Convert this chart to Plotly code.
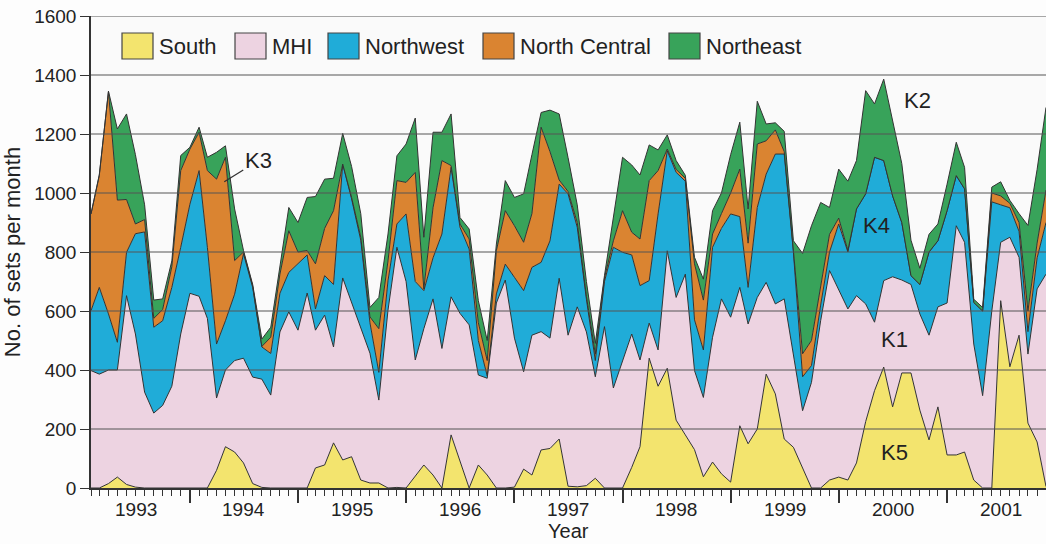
import pandas as pd
import plotly.graph_objects as go

# Monthly longline sets by fishing region, Feb 1993 - Dec 2001
months = pd.date_range("1993-02-01", periods=107, freq="MS")

south = [0, 0, 15, 37, 12, 3, 0, 0, 0, 0, 0,
         0, 0, 0, 60, 140, 122, 85, 15, 2, 0, 0, 0, 0,
         0, 68, 78, 153, 95, 106, 27, 17, 17, 0, 2, 0,
         40, 78, 44, 0, 180, 90, 0, 78, 44, 0, 0, 3,
         64, 44, 129, 134, 166, 6, 4, 8, 33, 0, 0, 0,
         70, 140, 440, 345, 406, 230, 180, 130, 38, 88, 48, 20,
         211, 150, 200, 386, 319, 166, 138, 70, 0, 0, 27, 37,
         27, 85, 225, 330, 410, 275, 390, 390, 264, 163, 275, 112,
         112, 122, 27, 0, 0, 635, 411, 518, 220, 156, 5]
mhi = [398, 386, 385, 363, 640, 519, 325, 254, 280, 345, 522,
       660, 650, 575, 245, 260, 310, 355, 361, 367, 315, 529, 597, 535,
       661, 467, 508, 325, 617, 521, 515, 440, 281, 603, 814, 700,
       394, 462, 597, 473, 468, 502, 553, 305, 328, 627, 705, 505,
       330, 474, 401, 374, 545, 512, 610, 521, 344, 547, 339, 434,
       452, 294, 119, 123, 398, 416, 545, 268, 269, 423, 593, 559,
       469, 406, 446, 311, 305, 475, 316, 192, 358, 567, 710, 632,
       580, 567, 399, 232, 293, 441, 315, 300, 326, 355, 339, 515,
       777, 711, 461, 313, 600, 198, 439, 264, 234, 519, 720]
northwest = [203, 294, 190, 94, 147, 340, 543, 291, 287, 335, 294,
             302, 426, 241, 183, 167, 225, 354, 304, 109, 141, 131, 134, 224,
             129, 72, 134, 212, 386, 353, 298, 103, 94, 100, 79, 229,
             266, 129, 139, 388, 439, 292, 257, 117, 8, 31, 54, 206,
             275, 230, 235, 330, 319, 479, 270, 111, 55, 153, 477, 365,
             268, 252, 144, 461, 339, 424, 315, 172, 161, 305, 239, 350,
             240, 124, 305, 367, 508, 491, 346, 115, 57, 53, 63, 226,
             193, 294, 373, 559, 407, 274, 195, 30, 100, 282, 224, 313,
             170, 181, 141, 287, 370, 127, 100, 88, 76, 105, 175]
north_central = [328, 379, 755, 482, 179, 33, 42, 30, 38, 70, 260,
                 187, 130, 260, 559, 554, 114, 6, 5, 2, 55, 65, 141, 41,
                 15, 153, 160, 250, 0, 5, 10, 20, 148, 67, 147, 107,
                 370, 6, 170, 249, 6, 11, 34, 60, 52, 147, 181, 175,
                 164, 182, 458, 302, 14, 8, 16, 10, 22, 12, 22, 141,
                 77, 158, 339, 147, 6, 10, 10, 190, 169, 45, 50, 71,
                 161, 150, 215, 113, 82, 8, 5, 78, 85, 70, 60, 20,
                 5, 0, 0, 0, 0, 0, 0, 0, 0, 0, 0, 0,
                 0, 0, 0, 0, 30, 30, 15, 30, 70, 50, 110]
northeast = [0, 3, 0, 241, 290, 235, 50, 62, 36, 20, 51,
             6, 17, 45, 91, 39, 175, 5, 5, 25, 34, 25, 79, 100,
             180, 228, 167, 110, 104, 105, 80, 32, 106, 91, 84, 130,
             184, 175, 256, 96, 175, 22, 34, 75, 68, 22, 102, 96,
             164, 200, 50, 141, 224, 115, 60, 50, 36, 8, 79, 181,
             228, 217, 121, 70, 48, 30, 10, 22, 71, 79, 70, 130,
             159, 116, 145, 57, 24, 69, 33, 340, 389, 278, 91, 166,
             235, 164, 350, 181, 276, 250, 200, 120, 55, 60, 57, 90,
             113, 73, 11, 12, 20, 48, 10, 30, 290, 250, 280]

years = list(range(1993, 2002))
y_ticks = list(range(0, 1601, 200))

series = [
    ("South", south, "#f3e46e"),
    ("MHI", mhi, "#edd3e1"),
    ("Northwest", northwest, "#20acd8"),
    ("North Central", north_central, "#da8431"),
    ("Northeast", northeast, "#38a35a"),
]

# cluster labels: (text, date, value)
cluster_labels = [
    ("K2", "2000-09-22", 1312),
    ("K4", "2000-05-08", 891),
    ("K1", "2000-07-08", 505),
    ("K5", "2000-07-08", 119),
]

FONT = "Liberation Sans, Arial, Helvetica, sans-serif"
INK = "#222222"
EDGE = "#333333"

fig = go.Figure()
for name, vals, color in series:
    fig.add_trace(go.Scatter(
        x=months, y=vals, name=name, mode="lines",
        stackgroup="one", fillcolor=color,
        line=dict(color=EDGE, width=1), showlegend=False,
    ))

# horizontal reference lines drawn over the filled areas
shapes = []
for v in y_ticks[1:]:
    shapes.append(dict(type="line", xref="paper", x0=0, x1=1, yref="y", y0=v, y1=v,
                       line=dict(color="#555555", width=1.2), layer="above"))

# legend row: swatch boxes with labels
legend_left_px = [122, 235, 328, 483, 669]
plot_l, plot_w, plot_b, plot_h = 91, 955, 488, 472
box_w, box_top, box_bot = 31, 33, 59
annotations = []
for (name, _, color), px in zip(series, legend_left_px):
    shapes.append(dict(type="rect", xref="paper", yref="paper",
                       x0=(px - plot_l) / plot_w, x1=(px + box_w - plot_l) / plot_w,
                       y0=(plot_b - box_bot) / plot_h, y1=(plot_b - box_top) / plot_h,
                       fillcolor=color, line=dict(color="#444444", width=1.2), layer="above"))
    annotations.append(dict(xref="paper", yref="paper",
                            x=(px + box_w + 4 - plot_l) / plot_w,
                            y=(plot_b - 46) / plot_h, text=name, showarrow=False,
                            xanchor="left", yanchor="middle",
                            font=dict(family=FONT, size=22, color=INK)))

# year labels centred on each year
for yr in years:
    annotations.append(dict(xref="x", yref="paper", x=f"{yr}-07-02", y=0,
                            text=str(yr), showarrow=False, xanchor="center",
                            yanchor="middle", yshift=-21,
                            font=dict(family=FONT, size=19, color=INK)))

for text, xd, yv in cluster_labels:
    annotations.append(dict(x=xd, y=yv, text=text, showarrow=False,
                            font=dict(family=FONT, size=22, color=INK)))

annotations.append(dict(x="1994-04-27", y=1038, text="K3", showarrow=True,
                        arrowhead=0, arrowwidth=1.3, arrowcolor=EDGE,
                        ax=34, ay=-21, standoff=0,
                        font=dict(family=FONT, size=22, color=INK)))

# axis title placed under the year labels
annotations.append(dict(xref="paper", yref="paper", x=0.5, y=0, yshift=-43,
                        text="Year", showarrow=False, xanchor="center",
                        yanchor="middle", font=dict(family=FONT, size=20, color=INK)))

fig.update_layout(
    width=1046, height=544,
    margin=dict(l=91, r=0, t=16, b=56),
    paper_bgcolor="#fdfdfd", plot_bgcolor="#fafafa",
    font=dict(family=FONT, size=19, color=INK),
    shapes=shapes, annotations=annotations, showlegend=False,
    xaxis=dict(
        type="date", range=[months[0], months[-1]],
        tick0="1993-01-01", dtick="M12", showticklabels=False,
        ticks="outside", ticklen=13, tickwidth=1.5, tickcolor=EDGE,
        minor=dict(dtick="M1", ticks="outside", ticklen=6, tickwidth=1.2,
                   tickcolor=EDGE, showgrid=False),
        showgrid=False, zeroline=False,
        showline=True, linecolor=EDGE, linewidth=1.5,
    ),
    yaxis=dict(
        range=[0, 1600], tickvals=y_ticks,
        ticks="outside", ticklen=9, tickwidth=1.2, tickcolor=EDGE,
        showgrid=False, zeroline=False,
        showline=True, linecolor=EDGE, linewidth=1.5,
        tickfont=dict(family=FONT, size=19, color=INK),
        title=dict(text="No. of sets per month", font=dict(family=FONT, size=22, color=INK),
                   standoff=8),
    ),
)

fig.write_html("out.html")
